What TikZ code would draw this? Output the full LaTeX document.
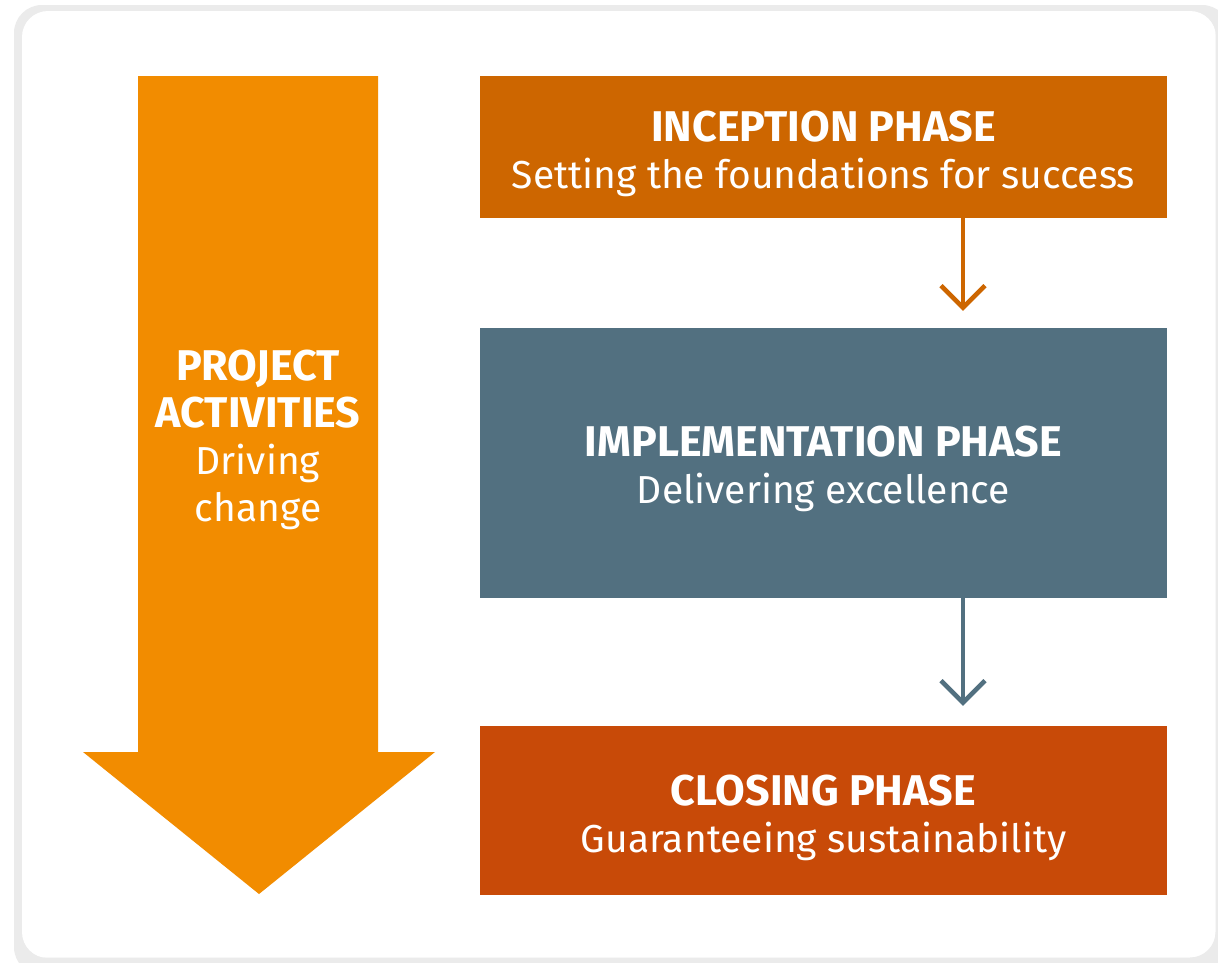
\documentclass[tikz,border=0pt]{standalone}
\usepackage{fontspec}
\setmainfont{Fira Sans}
\usetikzlibrary{arrows.meta,calc}
\definecolor{arroworange}{HTML}{F28C00}
\definecolor{inccol}{HTML}{CD6600}
\definecolor{impcol}{HTML}{527080}
\definecolor{clocol}{HTML}{C84A08}
\definecolor{shadowgrey}{HTML}{EBEBEB}
\newcommand{\ttl}[1]{{\fontsize{43}{47}\selectfont\bfseries #1}}
\newcommand{\sbt}[1]{{\fontsize{39}{47}\selectfont #1}}
\begin{document}
\begin{tikzpicture}[x=1pt,y=-1pt,
  phasebox/.style={rectangle, inner sep=0pt, minimum width=687pt},
  phasetext/.style={text=white, align=center, inner sep=0pt, font=\fontsize{39}{47}\selectfont},
  flowline/.style={line width=4.5pt, -{Straight Barb[length=22pt,width=44pt,line width=4.5pt]}}]
\useasboundingbox (0,0) rectangle (1218,962);
\fill[white] (0,0) rectangle (1218,962);
% panel with shadow
\fill[shadowgrey, rounded corners=28pt] (14,5) rectangle (1230,975);
\fill[white, rounded corners=26pt] (22,11) rectangle (1216,958);
\draw[shadowgrey, line width=1pt, rounded corners=26pt] (22,958) -- (1216,958) -- (1216,11);
% big arrow
\fill[arroworange] (138,76) -- (378,76) -- (378,752) -- (435,752) -- (259,894) -- (83,752) -- (138,752) -- cycle;
\node[phasetext] (proj) at (258,440)
  {\ttl{PROJECT}\\\ttl{ACTIVITIES}\\\sbt{Driving}\\\sbt{change}};
% phases
\node[phasebox, fill=inccol, minimum height=142pt] (inc) at (823.5,147) {};
\node[phasebox, fill=impcol, minimum height=270pt] (imp) at (823.5,463) {};
\node[phasebox, fill=clocol, minimum height=169pt] (clo) at (823.5,810.5) {};
\node[phasetext] (inctxt) at ($(inc.center)+(0,7)$) {\ttl{INCEPTION PHASE}\\\sbt{Setting the foundations for success}};
\node[phasetext] (imptxt) at ($(imp.center)+(0,6)$) {\ttl{IMPLEMENTATION PHASE}\\\sbt{Delivering excellence}};
\node[phasetext] (clotxt) at ($(clo.center)+(0,7)$) {\ttl{CLOSING PHASE}\\\sbt{Guaranteeing sustainability}};
\coordinate (ax) at (963,0);
\draw[flowline, draw=inccol] (inc.south -| ax) -- ($(imp.north -| ax)+(0,-17)$);
\draw[flowline, draw=impcol] (imp.south -| ax) -- ($(clo.north -| ax)+(0,-20)$);
\end{tikzpicture}
\end{document}
